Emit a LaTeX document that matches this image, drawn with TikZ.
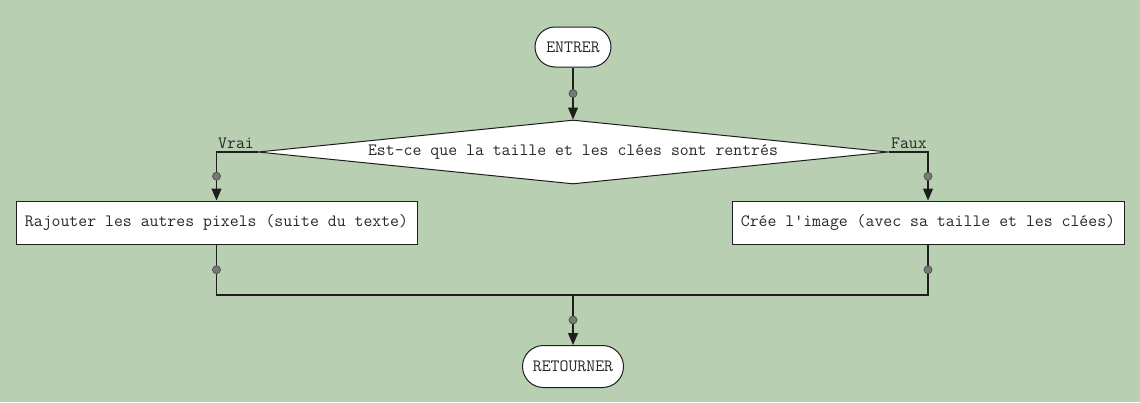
\documentclass[tikz,border=0pt]{standalone}
\usepackage{fontspec}
\usetikzlibrary{shapes.geometric,arrows.meta}
\definecolor{bg}{RGB}{184,207,177}
\definecolor{ink}{RGB}{30,30,30}
\definecolor{txt}{RGB}{40,40,40}
\definecolor{dotc}{RGB}{120,120,120}
\begin{document}
\begin{tikzpicture}[x=1pt,y=-1pt,
  every node/.style={font=\ttfamily\fontsize{17.3}{20}\selectfont, text=txt},
  term/.style={draw=ink, fill=white, line width=1pt, rounded corners=20pt, inner sep=0pt},
  procbox/.style={draw=ink, fill=white, line width=1pt, minimum height=43pt, inner sep=0pt},
  decision/.style={diamond, draw=ink, fill=white, line width=1pt, aspect=9.84, minimum width=630pt, minimum height=64pt, inner sep=0pt},
  flow/.style={draw=ink, line width=1.1pt},
  arr/.style={flow, -{Triangle[width=10pt,length=12pt]}},
  dot/.style={circle, draw=ink!80, fill=dotc, line width=0.7pt, minimum size=8pt, inner sep=0pt},
  lab/.style={inner sep=0pt, anchor=base west}]
\useasboundingbox (0,0) rectangle (1140,402);
\fill[bg] (0,0) rectangle (1140,402);

\node[term, minimum width=76pt, minimum height=40pt] (entrer) at (573,47) {ENTRER};
\node[decision] (cond) at (573,152) {Est-ce que la taille et les clées sont rentrés};
\node[procbox, minimum width=401pt] (left) at (216.5,222.5) {Rajouter les autres pixels (suite du texte)};
\node[procbox, minimum width=392pt] (right) at (928,222.5) {Crée l'image (avec sa taille et les clées)};
\node[term, minimum width=101pt, minimum height=42pt, rounded corners=21pt] (retour) at (573,366.5) {RETOURNER};
\coordinate (merge) at (573,295);

\node[lab] (vrai) at (218,148) {Vrai};
\node[lab, anchor=base east] (faux) at (927,148) {Faux};

\draw[arr] (entrer) -- node[dot]{} (cond.north);
\draw[arr] (cond.west) -| node[dot, pos=0.75]{} (left.north);
\draw[arr] (cond.east) -| node[dot, pos=0.75]{} (right.north);
\draw[flow] (left.south) -- node[dot]{} (left.south |- merge) -- (right.south |- merge) -- node[dot]{} (right.south);
\draw[arr] (merge) -- node[dot]{} (retour.north);
\end{tikzpicture}
\end{document}
